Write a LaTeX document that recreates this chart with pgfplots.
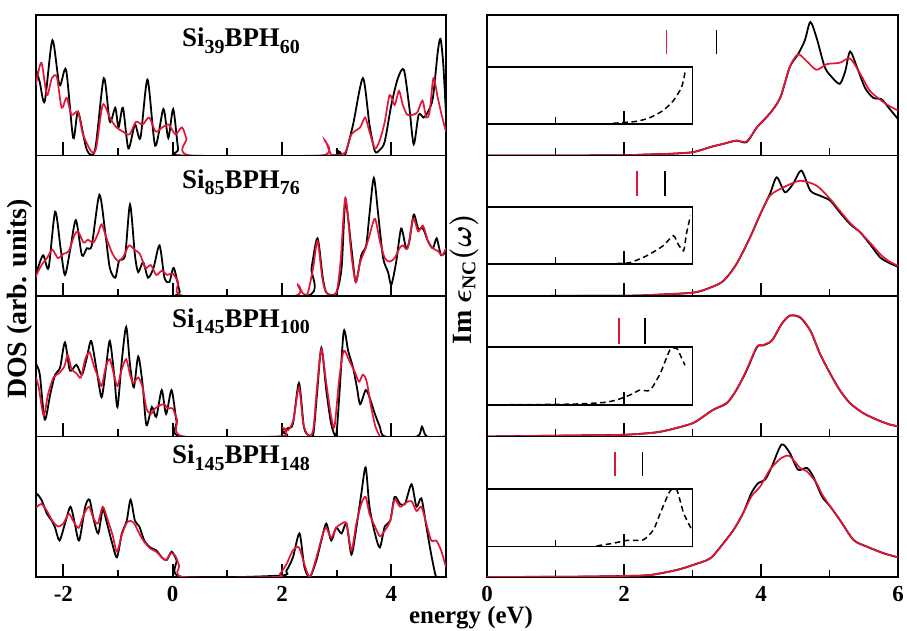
\documentclass[border=0pt]{standalone}
\usepackage{pgfplots}
\pgfplotsset{compat=1.18}
\usepackage{fontspec}
\setmainfont{Liberation Serif}
\usepackage{amsmath}
\definecolor{myred}{RGB}{228,20,55}
\newcommand{\subs}[1]{\raisebox{-0.55ex}{\fontsize{10}{10}\selectfont #1}}
\tikzset{ttl/.style={font=\bfseries\fontsize{13.5}{14}\selectfont}}
\pgfplotsset{
  panel/.style={scale only axis, height=70.25bp, ymin=0, ymax=1, ytick=\empty,
    tick align=inside, xtick pos=left, axis line style={line width=0.9pt},
    major tick length=6.5bp, minor tick length=3.5bp,
    every tick/.style={black, line width=0.9pt},
    xticklabels={}, clip=true,
    /pgf/number format/assume math mode=true,
    xticklabel style={font=\bfseries\fontsize{11.5}{12}\selectfont, yshift=-1bp}},
  lp/.style={panel, width=205bp, xmin=-2.5, xmax=5, xtick={-2,0,2,4}, minor xtick={-1,1,3}},
  rp/.style={panel, width=205.5bp, xmin=0, xmax=6, xtick={0,2,4,6}, minor xtick={1,3,5}},
  blk/.style={black, line width=0.9pt, smooth, tension=0.45},
  rd/.style={myred, line width=0.85pt, smooth, tension=0.45},
  ins/.style={black, line width=0.75pt, dash pattern=on 2.8bp off 1.8bp, smooth, tension=0.4},
  mk/.style={line width=0.9pt},
}
\begin{document}
\begin{tikzpicture}
% ---------------- LEFT: DOS ----------------
\begin{axis}[lp, at={(18bp,237.75bp)}, anchor=south west]
\addplot[blk] coordinates {(-2.5,0.58) (-2.49,0.60) (-2.43,0.52) (-2.34,0.385) (-2.2,0.82) (-2.07,0.50) (-1.95,0.61) (-1.82,0.125) (-1.73,0.31) (-1.57,0.04) (-1.42,0.04) (-1.26,0.55) (-1.15,0.24) (-1.05,0.34) (-0.99,0.2) (-0.91,0.34) (-0.81,0.05) (-0.69,0.22) (-0.59,0.125) (-0.46,0.54) (-0.32,0.07) (-0.17,0.33) (-0.08,0.125) (0.01,0.33) (0.1,0.05) (0.18,0.0) (2.9,0.0) (2.99,0.04) (3.06,0.0) (3.15,0.0) (3.3,0.22) (3.48,0.55) (3.6,0.22) (3.7,0.03) (3.79,0.04) (3.88,0.1) (4.0,0.36) (4.12,0.55) (4.23,0.61) (4.33,0.34) (4.41,0.08) (4.5,0.29) (4.59,0.27) (4.67,0.31) (4.76,0.41) (4.85,0.74) (4.9,0.83) (4.95,0.65) (5.0,0.29)};
\addplot[rd] coordinates {(-2.5,0.5) (-2.49,0.53) (-2.4,0.66) (-2.3,0.43) (-2.21,0.55) (-2.12,0.56) (-2.03,0.34) (-1.94,0.41) (-1.85,0.29) (-1.73,0.31) (-1.64,0.15) (-1.49,0.03) (-1.4,0.05) (-1.28,0.36) (-1.15,0.27) (-1.03,0.2) (-0.91,0.17) (-0.79,0.15) (-0.67,0.24) (-0.55,0.22) (-0.43,0.27) (-0.31,0.17) (-0.19,0.2) (-0.07,0.22) (0.05,0.15) (0.17,0.2) (0.25,0.12) (0.33,0.0) (2.72,0.0) (2.78,0.11) (2.87,0.03) (2.93,0.0) (3.15,0.02) (3.27,0.15) (3.43,0.2) (3.52,0.27) (3.6,0.17) (3.7,0.05) (3.79,0.11) (3.88,0.24) (3.97,0.43) (4.06,0.36) (4.14,0.46) (4.21,0.36) (4.29,0.29) (4.4,0.29) (4.48,0.31) (4.57,0.39) (4.64,0.27) (4.7,0.31) (4.77,0.55) (4.85,0.41) (4.92,0.29) (5.0,0.17)};
\node[ttl] at (rel axis cs:0.5,0.815) {Si\subs{39}BPH\subs{60}};
\end{axis}
\begin{axis}[lp, at={(18bp,167.5bp)}, anchor=south west]
\addplot[blk] coordinates {(-2.5,0.15) (-2.49,0.17) (-2.37,0.29) (-2.27,0.2) (-2.15,0.6) (-2.05,0.34) (-1.97,0.15) (-1.87,0.34) (-1.77,0.54) (-1.66,0.29) (-1.57,0.34) (-1.48,0.36) (-1.34,0.72) (-1.23,0.44) (-1.15,0.2) (-1.05,0.13) (-0.98,0.25) (-0.87,0.29) (-0.78,0.65) (-0.69,0.29) (-0.63,0.17) (-0.54,0.24) (-0.45,0.13) (-0.35,0.2) (-0.24,0.36) (-0.15,0.13) (-0.06,0.1) (0.02,0.2) (0.13,0.03) (0.2,0.0) (2.45,0.0) (2.54,0.2) (2.65,0.41) (2.75,0.12) (2.82,0.02) (2.99,0.02) (3.09,0.2) (3.16,0.67) (3.27,0.34) (3.35,0.1) (3.45,0.29) (3.54,0.36) (3.6,0.58) (3.68,0.84) (3.76,0.58) (3.85,0.27) (3.94,0.17) (4.0,0.08) (4.09,0.245) (4.18,0.48) (4.27,0.34) (4.33,0.39) (4.41,0.58) (4.49,0.48) (4.58,0.48) (4.67,0.39) (4.76,0.34) (4.83,0.41) (4.91,0.29) (5.0,0.32)};
\addplot[rd] coordinates {(-2.5,0.13) (-2.49,0.15) (-2.4,0.22) (-2.3,0.27) (-2.2,0.33) (-2.1,0.27) (-2.0,0.3) (-1.9,0.32) (-1.8,0.43) (-1.73,0.46) (-1.63,0.38) (-1.55,0.40) (-1.45,0.38) (-1.36,0.45) (-1.3,0.51) (-1.2,0.4) (-1.1,0.3) (-1.0,0.25) (-0.9,0.28) (-0.8,0.36) (-0.7,0.33) (-0.6,0.3) (-0.5,0.2) (-0.4,0.22) (-0.3,0.15) (-0.2,0.18) (-0.1,0.15) (0.0,0.16) (0.1,0.1) (0.22,0.0) (2.2,0.0) (2.29,0.08) (2.38,0.02) (2.47,0.02) (2.57,0.2) (2.65,0.39) (2.74,0.12) (2.82,0.02) (2.99,0.02) (3.07,0.24) (3.16,0.70) (3.27,0.29) (3.35,0.1) (3.43,0.24) (3.53,0.34) (3.6,0.43) (3.7,0.55) (3.79,0.39) (3.88,0.27) (3.97,0.245) (4.06,0.27) (4.15,0.34) (4.21,0.36) (4.3,0.34) (4.4,0.55) (4.49,0.46) (4.58,0.5) (4.67,0.39) (4.76,0.34) (4.85,0.32) (4.93,0.29) (5.0,0.34)};
\node[ttl] at (rel axis cs:0.5,0.81) {Si\subs{85}BPH\subs{76}};
\end{axis}
\begin{axis}[lp, at={(18bp,97.25bp)}, anchor=south west]
\addplot[blk] coordinates {(-2.5,0.53) (-2.49,0.51) (-2.43,0.44) (-2.34,0.12) (-2.24,0.3) (-2.15,0.44) (-2.06,0.49) (-1.97,0.67) (-1.88,0.47) (-1.76,0.51) (-1.66,0.44) (-1.57,0.56) (-1.49,0.68) (-1.39,0.47) (-1.3,0.28) (-1.22,0.49) (-1.15,0.68) (-1.07,0.44) (-1.01,0.21) (-0.93,0.54) (-0.85,0.78) (-0.78,0.51) (-0.71,0.35) (-0.63,0.57) (-0.55,0.37) (-0.48,0.08) (-0.38,0.21) (-0.3,0.14) (-0.2,0.33) (-0.12,0.16) (-0.02,0.33) (0.07,0.11) (0.16,0.0) (2.0,0.0) (2.02,0.03) (2.11,0.06) (2.2,0.09) (2.31,0.38) (2.4,0.07) (2.48,0.01) (2.57,0.01) (2.64,0.3) (2.72,0.63) (2.81,0.33) (2.9,0.09) (2.99,0.01) (3.05,0.3) (3.13,0.75) (3.21,0.61) (3.3,0.49) (3.37,0.35) (3.43,0.23) (3.53,0.33) (3.6,0.28) (3.7,0.16) (3.79,0.07) (3.88,0.0) (4.47,0.0) (4.56,0.07) (4.65,0.0) (5.0,0.0)};
\addplot[rd] coordinates {(-2.5,0.42) (-2.45,0.35) (-2.36,0.15) (-2.28,0.3) (-2.18,0.42) (-2.08,0.45) (-1.98,0.5) (-1.92,0.58) (-1.85,0.48) (-1.76,0.45) (-1.68,0.42) (-1.6,0.55) (-1.52,0.6) (-1.44,0.5) (-1.36,0.42) (-1.3,0.36) (-1.22,0.5) (-1.15,0.55) (-1.08,0.45) (-1.01,0.36) (-0.93,0.48) (-0.85,0.55) (-0.78,0.44) (-0.72,0.38) (-0.63,0.42) (-0.55,0.35) (-0.48,0.2) (-0.4,0.16) (-0.32,0.2) (-0.24,0.22) (-0.16,0.23) (-0.08,0.2) (0.0,0.2) (0.08,0.12) (0.2,0.0) (1.98,0.0) (2.02,0.06) (2.11,0.045) (2.21,0.12) (2.31,0.35) (2.39,0.09) (2.48,0.01) (2.57,0.045) (2.64,0.35) (2.72,0.62) (2.81,0.38) (2.9,0.14) (2.96,0.07) (3.05,0.42) (3.13,0.61) (3.23,0.54) (3.33,0.46) (3.41,0.39) (3.48,0.44) (3.55,0.39) (3.63,0.21) (3.71,0.07) (3.79,0.0)};
\node[ttl] at (rel axis cs:0.5,0.82) {Si\subs{145}BPH\subs{100}};
\end{axis}
\begin{axis}[lp, at={(18bp,27bp)}, anchor=south west, xticklabels={-2,0,2,4}]
\addplot[blk] coordinates {(-2.5,0.57) (-2.48,0.59) (-2.4,0.55) (-2.3,0.45) (-2.21,0.4) (-2.15,0.35) (-2.07,0.26) (-1.97,0.38) (-1.87,0.5) (-1.79,0.38) (-1.71,0.26) (-1.6,0.5) (-1.52,0.55) (-1.44,0.40) (-1.36,0.31) (-1.28,0.48) (-1.2,0.38) (-1.12,0.26) (-1.02,0.14) (-0.93,0.31) (-0.84,0.40) (-0.77,0.55) (-0.69,0.40) (-0.61,0.36) (-0.52,0.26) (-0.41,0.21) (-0.3,0.19) (-0.2,0.14) (-0.11,0.12) (-0.02,0.18) (0.07,0.12) (0.16,0.0) (1.96,0.01) (2.08,0.045) (2.2,0.14) (2.32,0.31) (2.41,0.07) (2.51,0.0) (2.63,0.12) (2.72,0.26) (2.81,0.38) (2.9,0.26) (2.99,0.35) (3.09,0.31) (3.18,0.38) (3.27,0.16) (3.36,0.35) (3.45,0.59) (3.53,0.78) (3.6,0.5) (3.7,0.31) (3.79,0.21) (3.88,0.36) (3.98,0.40) (4.06,0.57) (4.16,0.52) (4.25,0.52) (4.37,0.66) (4.46,0.50) (4.55,0.56) (4.64,0.36) (4.73,0.16) (4.81,0.01) (4.85,0.0)};
\addplot[rd] coordinates {(-2.5,0.5) (-2.48,0.5) (-2.4,0.52) (-2.3,0.47) (-2.2,0.4) (-2.1,0.36) (-2.0,0.38) (-1.9,0.45) (-1.82,0.4) (-1.72,0.35) (-1.62,0.45) (-1.53,0.5) (-1.45,0.42) (-1.37,0.38) (-1.28,0.5) (-1.2,0.42) (-1.1,0.3) (-1.02,0.18) (-0.93,0.3) (-0.85,0.38) (-0.78,0.4) (-0.7,0.38) (-0.6,0.3) (-0.5,0.24) (-0.4,0.2) (-0.3,0.18) (-0.2,0.14) (-0.12,0.12) (-0.03,0.17) (0.05,0.15) (0.12,0.08) (0.2,0.0) (1.9,0.0) (1.96,0.02) (2.08,0.09) (2.2,0.19) (2.31,0.21) (2.41,0.09) (2.51,0.0) (2.63,0.14) (2.75,0.31) (2.81,0.35) (2.9,0.28) (2.99,0.35) (3.09,0.38) (3.18,0.38) (3.27,0.19) (3.36,0.38) (3.45,0.52) (3.53,0.57) (3.6,0.45) (3.7,0.36) (3.79,0.29) (3.88,0.33) (3.98,0.40) (4.06,0.55) (4.16,0.50) (4.27,0.53) (4.37,0.54) (4.46,0.47) (4.55,0.50) (4.64,0.38) (4.73,0.26) (4.82,0.26) (4.91,0.19) (5.0,0.07)};
\node[ttl] at (rel axis cs:0.5,0.85) {Si\subs{145}BPH\subs{148}};
\end{axis}
% ---------------- RIGHT: Im eps ----------------
\begin{axis}[rp, at={(243.5bp,237.75bp)}, anchor=south west]
\draw[line width=0.9pt] (axis cs:0,0.225) rectangle (axis cs:3,0.63);
\draw[line width=0.9pt] (axis cs:1,0.225) -- ++(0,3.5bp) (axis cs:2,0.225) -- ++(0,6.5bp);
\addplot[ins] coordinates {(1.84,0.229) (2.18,0.243) (2.38,0.27) (2.57,0.32) (2.72,0.39) (2.84,0.485) (2.89,0.59)};
\addplot[blk] coordinates {(0,0) (1.0,0.0) (2.0,0.002) (2.33,0.007) (2.67,0.012) (3.01,0.024) (3.26,0.06) (3.45,0.083) (3.64,0.106) (3.79,0.095) (3.94,0.2) (4.13,0.3) (4.28,0.41) (4.42,0.63) (4.54,0.72) (4.64,0.82) (4.72,0.95) (4.81,0.84) (4.93,0.63) (5.03,0.56) (5.15,0.51) (5.23,0.6) (5.3,0.74) (5.4,0.63) (5.52,0.48) (5.64,0.41) (5.76,0.40) (5.88,0.33) (6.0,0.26)};
\addplot[rd] coordinates {(0,0) (1.0,0.0) (2.0,0.002) (2.33,0.007) (2.67,0.012) (3.01,0.024) (3.26,0.06) (3.45,0.083) (3.64,0.106) (3.79,0.1) (3.94,0.2) (4.13,0.3) (4.28,0.41) (4.42,0.63) (4.54,0.72) (4.67,0.67) (4.81,0.61) (4.96,0.65) (5.15,0.66) (5.3,0.69) (5.45,0.58) (5.59,0.46) (5.76,0.39) (5.88,0.35) (6.0,0.32)};
\addplot[mk, myred] coordinates {(2.62,0.72) (2.62,0.89)};
\addplot[mk, black] coordinates {(3.35,0.72) (3.35,0.89)};
\end{axis}
\begin{axis}[rp, at={(243.5bp,167.5bp)}, anchor=south west]
\draw[line width=0.9pt] (axis cs:0,0.226) rectangle (axis cs:3,0.636);
\draw[line width=0.9pt] (axis cs:1,0.226) -- ++(0,3.5bp) (axis cs:2,0.226) -- ++(0,6.5bp);
\addplot[ins] coordinates {(1.89,0.231) (2.09,0.238) (2.33,0.286) (2.57,0.357) (2.72,0.429) (2.79,0.369) (2.87,0.321) (2.91,0.44) (2.97,0.571)};
\addplot[blk] coordinates {(0,0) (2.0,0.002) (2.38,0.007) (3.01,0.024) (3.26,0.06) (3.45,0.107) (3.64,0.226) (3.84,0.417) (3.99,0.583) (4.13,0.726) (4.23,0.845) (4.35,0.738) (4.47,0.8) (4.59,0.893) (4.72,0.75) (4.86,0.714) (5.01,0.679) (5.15,0.595) (5.3,0.512) (5.45,0.452) (5.59,0.369) (5.74,0.274) (5.86,0.238) (6.0,0.207)};
\addplot[rd] coordinates {(0,0) (2.0,0.002) (2.38,0.007) (3.01,0.024) (3.26,0.06) (3.45,0.107) (3.64,0.226) (3.84,0.417) (3.99,0.583) (4.13,0.714) (4.33,0.774) (4.57,0.82) (4.81,0.786) (5.01,0.69) (5.15,0.607) (5.3,0.52) (5.45,0.452) (5.59,0.38) (5.74,0.298) (5.86,0.25) (6.0,0.214)};
\addplot[mk, myred] coordinates {(2.19,0.714) (2.19,0.89)};
\addplot[mk, black] coordinates {(2.60,0.714) (2.60,0.89)};
\end{axis}
\begin{axis}[rp, at={(243.5bp,97.25bp)}, anchor=south west]
\draw[line width=0.9pt] (axis cs:0,0.225) rectangle (axis cs:3,0.636);
\draw[line width=0.9pt] (axis cs:1,0.225) -- ++(0,3.5bp) (axis cs:2,0.225) -- ++(0,6.5bp);
\addplot[ins] coordinates {(0.04,0.225) (1.21,0.23) (1.7,0.242) (1.89,0.26) (2.09,0.296) (2.23,0.33) (2.38,0.33) (2.53,0.45) (2.67,0.615) (2.77,0.627) (2.83,0.57) (2.89,0.507)};
\addplot[blk] coordinates {(0,0) (1.21,0.007) (1.99,0.012) (2.48,0.03) (2.77,0.061) (3.01,0.096) (3.16,0.143) (3.3,0.19) (3.5,0.237) (3.64,0.33) (3.79,0.47) (3.94,0.636) (4.03,0.648) (4.16,0.683) (4.3,0.8) (4.42,0.86) (4.57,0.847) (4.72,0.754) (4.86,0.59) (5.01,0.448) (5.15,0.33) (5.3,0.237) (5.49,0.167) (5.69,0.12) (5.88,0.085) (6.0,0.073)};
\addplot[rd] coordinates {(0,0) (1.21,0.007) (1.99,0.012) (2.48,0.03) (2.77,0.061) (3.01,0.096) (3.16,0.143) (3.3,0.19) (3.5,0.24) (3.64,0.33) (3.79,0.475) (3.94,0.64) (4.03,0.65) (4.16,0.685) (4.3,0.8) (4.42,0.86) (4.57,0.85) (4.72,0.754) (4.86,0.59) (5.01,0.448) (5.15,0.33) (5.3,0.237) (5.49,0.167) (5.69,0.12) (5.88,0.085) (6.0,0.073)};
\addplot[mk, myred] coordinates {(1.93,0.66) (1.93,0.84)};
\addplot[mk, black] coordinates {(2.31,0.66) (2.31,0.84)};
\end{axis}
\begin{axis}[rp, at={(243.5bp,27bp)}, anchor=south west, xticklabels={0,2,4,6}]
\draw[line width=0.9pt] (axis cs:0,0.217) rectangle (axis cs:3,0.626);
\draw[line width=0.9pt] (axis cs:1,0.217) -- ++(0,3.5bp) (axis cs:2,0.217) -- ++(0,6.5bp);
\addplot[ins] coordinates {(1.6,0.221) (1.84,0.24) (2.04,0.26) (2.28,0.264) (2.43,0.336) (2.53,0.455) (2.67,0.61) (2.77,0.621) (2.87,0.455) (2.99,0.336)};
\addplot[blk] coordinates {(0,0) (1.21,0.002) (1.99,0.007) (2.38,0.014) (2.77,0.05) (3.01,0.086) (3.26,0.133) (3.45,0.24) (3.6,0.336) (3.74,0.455) (3.86,0.598) (3.96,0.669) (4.06,0.693) (4.16,0.788) (4.3,0.943) (4.42,0.883) (4.54,0.764) (4.67,0.776) (4.76,0.717) (4.89,0.574) (5.01,0.502) (5.15,0.407) (5.35,0.264) (5.54,0.217) (5.79,0.169) (6.0,0.14)};
\addplot[rd] coordinates {(0,0) (1.21,0.002) (1.99,0.007) (2.38,0.014) (2.77,0.05) (3.01,0.086) (3.26,0.133) (3.45,0.24) (3.6,0.336) (3.74,0.455) (3.86,0.574) (3.99,0.645) (4.13,0.764) (4.3,0.848) (4.42,0.86) (4.57,0.776) (4.67,0.752) (4.81,0.669) (4.89,0.59) (5.01,0.502) (5.15,0.407) (5.35,0.264) (5.54,0.217) (5.79,0.169) (6.0,0.14)};
\addplot[mk, myred] coordinates {(1.87,0.72) (1.87,0.89)};
\addplot[mk, black] coordinates {(2.27,0.72) (2.27,0.89)};
\end{axis}
% ---------------- labels ----------------
\node[rotate=90, font=\bfseries\fontsize{14}{16}\selectfont] at (10bp,166bp) {DOS (arb. units)};
\node[rotate=90, font=\bfseries\boldmath\fontsize{14}{16}\selectfont] at (232bp,176bp) {Im $\epsilon_{\mathrm{NC}}(\omega)$};
\node[anchor=base, font=\bfseries\fontsize{12.5}{14}\selectfont] at (235.5bp,3.6bp) {energy (eV)};
\pgfresetboundingbox
\path[use as bounding box] (0,0) rectangle (453.5bp,315.5bp);
\end{tikzpicture}
\end{document}
